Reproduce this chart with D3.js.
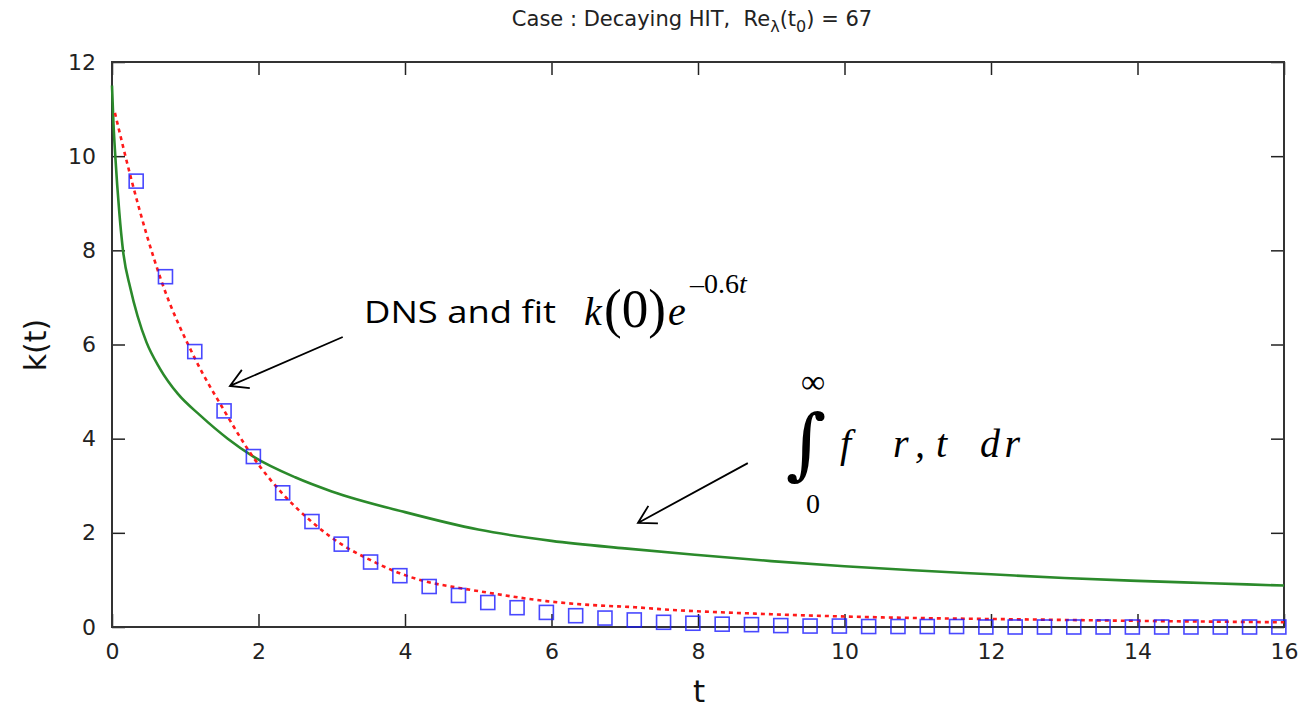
<!DOCTYPE html>
<html lang="en">
<head>
    <meta charset="UTF-8">
    <title>k(t) decaying HIT</title>
    <script src="https://d3js.org/d3.v7.min.js"></script>
    <style>
        body { margin: 0; padding: 0; background: #fff; }
        svg { display: block; }
        .tick text { font-family: "DejaVu Sans", sans-serif; font-size: 22px; fill: #222; }
        .math { font-family: "Liberation Serif", "DejaVu Serif", serif; fill: #000; }
    </style>
</head>
<body>
<svg id="chart" width="1305" height="711"></svg>
<script>
    // DNS samples (blue squares)
    const dnsT = [0.33, 0.73, 1.13, 1.53, 1.93, 2.33, 2.73, 3.13, 3.53, 3.93,
                  4.33, 4.73, 5.13, 5.53, 5.93, 6.33, 6.73, 7.13, 7.53, 7.93,
                  8.33, 8.73, 9.13, 9.53, 9.93, 10.33, 10.73, 11.13, 11.53, 11.93,
                  12.33, 12.73, 13.13, 13.53, 13.93, 14.33, 14.73, 15.13, 15.53, 15.93];
    const dnsK = [9.47, 7.44, 5.85, 4.59, 3.62, 2.85, 2.24, 1.76, 1.38, 1.09,
                  0.86, 0.67, 0.52, 0.41, 0.31, 0.24, 0.19, 0.15, 0.10, 0.08,
                  0.06, 0.05, 0.03, 0.02, 0.02, 0.01, 0.01, 0.01, 0.01, 0.0,
                  0.0, 0.0, 0.0, 0.0, 0.0, 0.0, 0.0, 0.0, 0.0, 0.0];

    // exponential fit (red dashed)
    const fitT = [0.04, 0.27, 0.67, 1.13, 1.53, 1.93, 2.33, 2.73, 2.98, 3.13, 3.53, 3.93,
                  4.30, 4.74, 5.13, 5.54, 5.93, 6.33, 6.73, 7.14, 7.48, 8.85, 10.35, 11.7, 12, 14, 16];
    const fitK = [10.92, 9.47, 7.37, 5.71, 4.60, 3.60, 2.83, 2.23, 1.92, 1.76, 1.42, 1.14,
                  0.96, 0.83, 0.73, 0.63, 0.55, 0.49, 0.45, 0.42, 0.38, 0.28, 0.21, 0.175, 0.17, 0.13, 0.10];

    // integral of f(r,t) dr (green)
    const intT = [0, 0.02, 0.045, 0.1, 0.15, 0.25, 0.35, 0.47, 0.65, 0.9, 1.2, 1.58, 1.93,
                  2.5, 3, 4, 5, 6, 7, 8, 9, 10, 11, 12, 13, 14, 15, 16];
    const intK = [11.5, 10.7, 10.0, 8.8, 8.0, 7.2, 6.6, 6.05, 5.5, 4.95, 4.5, 4.0, 3.62,
                  3.18, 2.88, 2.44, 2.07, 1.83, 1.67, 1.53, 1.40, 1.29, 1.20, 1.12, 1.04, 0.98, 0.93, 0.88];

    const xTicks = [0, 2, 4, 6, 8, 10, 12, 14, 16];
    const yTicks = [0, 2, 4, 6, 8, 10, 12];

    const svg = d3.select("#chart");
    const x = d3.scaleLinear().domain([0, 16]).range([112, 1284]);
    const y = d3.scaleLinear().domain([0, 12]).range([627, 62]);

    // axes, ticks pointing inward on all sides
    const tick = 13;
    svg.append("g").attr("transform", `translate(0,${y(0)})`)
        .call(d3.axisBottom(x).tickValues(xTicks).tickFormat(d3.format("d"))
            .tickSizeInner(-tick).tickSizeOuter(0).tickPadding(16));
    svg.append("g").attr("transform", `translate(0,${y(12)})`)
        .call(d3.axisTop(x).tickValues(xTicks).tickFormat("")
            .tickSizeInner(-tick).tickSizeOuter(0));
    svg.append("g").attr("transform", `translate(${x(0)},0)`)
        .call(d3.axisLeft(y).tickValues(yTicks).tickFormat(d3.format("d"))
            .tickSizeInner(-tick).tickSizeOuter(0).tickPadding(16));
    svg.append("g").attr("transform", `translate(${x(16)},0)`)
        .call(d3.axisRight(y).tickValues(yTicks).tickFormat("")
            .tickSizeInner(-tick).tickSizeOuter(0));
    svg.selectAll(".domain").remove();
    svg.selectAll(".tick line").attr("stroke", "#222").attr("stroke-width", 1.5);

    svg.append("rect")
        .attr("x", x(0)).attr("y", y(12))
        .attr("width", x(16) - x(0)).attr("height", y(0) - y(12))
        .attr("fill", "none").attr("stroke", "#333").attr("stroke-width", 2);

    const line = d3.line().x(d => x(d[0])).y(d => y(d[1])).curve(d3.curveMonotoneX);

    svg.append("path")
        .attr("d", line(d3.zip(intT, intK)))
        .attr("fill", "none").attr("stroke", "#2b8a2b").attr("stroke-width", 2.6);

    svg.append("path")
        .attr("d", line(d3.zip(fitT, fitK)))
        .attr("fill", "none").attr("stroke", "#ff1a1a").attr("stroke-width", 2.6)
        .attr("stroke-dasharray", "4,4");

    const sq = 14;
    svg.append("g").selectAll("rect")
        .data(d3.zip(dnsT, dnsK))
        .join("rect")
        .attr("x", d => x(d[0]) - sq / 2)
        .attr("y", d => y(d[1]) - sq / 2)
        .attr("width", sq).attr("height", sq)
        .attr("fill", "none").attr("stroke", "#1a1aff")
        .attr("stroke-opacity", 0.8).attr("stroke-width", 1.6);

    // title
    const title = svg.append("text")
        .attr("x", 692).attr("y", 26).attr("text-anchor", "middle")
        .style("white-space", "pre")
        .style("font-family", "DejaVu Sans, sans-serif").style("font-size", "21px").attr("fill", "#222");
    title.append("tspan").text("Case : Decaying HIT,  Re");
    title.append("tspan").attr("dy", 6).style("font-size", "16px").text("λ");
    title.append("tspan").attr("dy", -6).text("(t");
    title.append("tspan").attr("dy", 6).style("font-size", "16px").text("0");
    title.append("tspan").attr("dy", -6).text(") = 67");

    // axis labels
    svg.append("text")
        .attr("x", 699).attr("y", 702).attr("text-anchor", "middle")
        .style("font-family", "DejaVu Sans, sans-serif").style("font-size", "31px").attr("fill", "#111")
        .text("t");
    svg.append("text")
        .attr("transform", "translate(46,345) rotate(-90)").attr("text-anchor", "middle")
        .style("font-family", "DejaVu Sans, sans-serif").style("font-size", "30px").attr("fill", "#111")
        .text("k(t)");

    // arrows, in data units
    const arrows = [
        { from: [3.15, 6.16], to: [1.61, 5.12] },
        { from: [8.68, 3.48], to: [7.18, 2.21] }
    ];
    arrows.forEach(a => {
        const x0 = x(a.from[0]), y0 = y(a.from[1]);
        const x1 = x(a.to[0]), y1 = y(a.to[1]);
        const ang = Math.atan2(y0 - y1, x0 - x1);
        const len = 20, spread = Math.PI / 6;
        const p = d3.path();
        p.moveTo(x0, y0); p.lineTo(x1, y1);
        p.moveTo(x1 + len * Math.cos(ang - spread), y1 + len * Math.sin(ang - spread));
        p.lineTo(x1, y1);
        p.lineTo(x1 + len * Math.cos(ang + spread), y1 + len * Math.sin(ang + spread));
        svg.append("path").attr("d", p.toString())
            .attr("fill", "none").attr("stroke", "#000").attr("stroke-width", 1.8);
    });

    // annotation: DNS and fit k(0)e^{-0.6t}
    svg.append("text")
        .attr("x", 364).attr("y", 323)
        .attr("textLength", 192).attr("lengthAdjust", "spacingAndGlyphs")
        .style("font-family", "Open Sans, sans-serif").style("font-size", "31px").attr("fill", "#000")
        .text("DNS and fit");

    const m1 = svg.append("g").attr("class", "math");
    m1.append("text").attr("x", 584).attr("y", 325).style("font-size", "40px").style("font-style", "italic").text("k");
    m1.append("text").attr("x", 604).attr("y", 327).attr("textLength", 62).attr("lengthAdjust", "spacingAndGlyphs")
        .style("font-size", "54px").text("(0)");
    m1.append("text").attr("x", 668).attr("y", 325).style("font-size", "40px").style("font-style", "italic").text("e");
    const sup = m1.append("text").attr("x", 690).attr("y", 293).style("font-size", "28px");
    sup.append("tspan").text("–0.6");
    sup.append("tspan").style("font-style", "italic").text("t");

    // annotation: integral
    const m2 = svg.append("g").attr("class", "math");
    m2.append("text").attr("x", 813).attr("y", 393).attr("text-anchor", "middle").style("font-size", "34px").text("∞");
    m2.append("text").attr("x", 806).attr("y", 470).attr("text-anchor", "middle")
        .style("font-family", "DejaVu Serif, serif").style("font-size", "78px").text("∫");
    m2.append("text").attr("x", 813).attr("y", 513).attr("text-anchor", "middle").style("font-size", "28px").text("0");
    m2.append("text").attr("x", 840).attr("y", 457).style("font-size", "40px").style("font-style", "italic").text("f");
    m2.append("text").attr("x", 893).attr("y", 457).attr("textLength", 54).attr("lengthAdjust", "spacing")
        .style("font-size", "40px").style("font-style", "italic").text("r,t");
    m2.append("text").attr("x", 980).attr("y", 457).attr("textLength", 40).attr("lengthAdjust", "spacing")
        .style("font-size", "40px").style("font-style", "italic").text("dr");
</script>
</body>
</html>
